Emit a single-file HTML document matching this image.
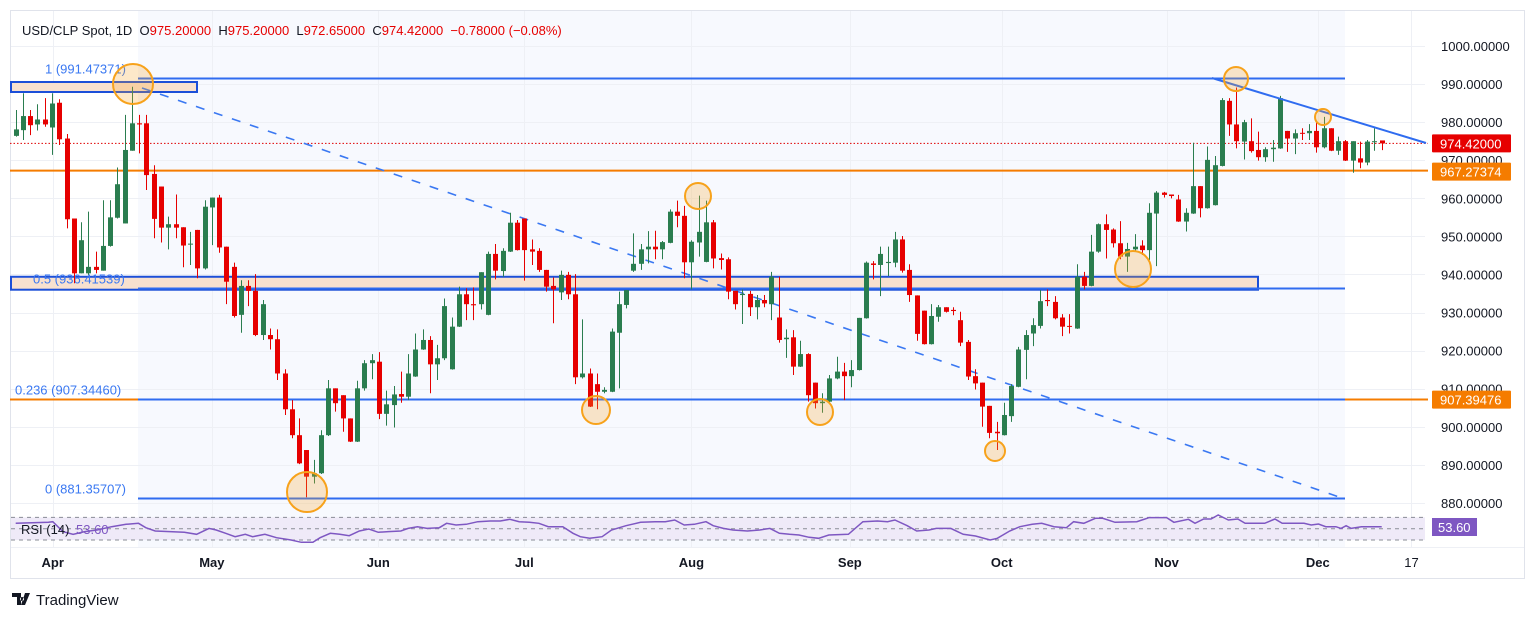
<!DOCTYPE html>
<html><head><meta charset="utf-8"><style>
html,body{margin:0;padding:0;background:#fff;}
svg{display:block;font-family:"Liberation Sans",sans-serif;}
</style></head><body>
<svg id="c" width="1536" height="619" viewBox="0 0 1536 619"></svg>
<script>
const openP=[976.4,977.9,981.6,979.4,980.7,978.6,985.1,975.7,954.7,940.3,940.3,942.0,941.0,947.5,954.9,953.4,972.5,979.7,979.7,966.4,963.1,952.3,953.2,952.4,947.9,951.7,941.6,957.6,960.2,947.3,942.0,929.4,937.0,935.7,924.1,924.1,923.0,914.0,904.6,897.8,893.9,886.9,887.8,897.8,910.1,908.3,902.2,896.1,910.1,916.7,917.1,903.4,905.7,908.6,907.9,913.2,920.3,922.8,916.4,918.0,915.1,926.3,934.8,932.2,932.2,929.4,945.4,940.9,946.0,953.6,954.7,946.6,946.2,941.2,937.0,935.3,939.9,934.8,913.0,914.0,911.2,909.2,909.2,924.7,932.0,941.0,942.8,946.6,947.3,946.6,948.3,956.5,955.4,943.2,948.4,943.3,953.7,944.3,944.0,935.7,934.6,934.9,931.4,933.3,932.2,928.7,923.0,923.5,915.8,919.1,911.6,906.2,906.6,912.7,914.5,913.3,914.9,928.5,942.9,942.5,943.0,943.1,949.2,941.2,934.5,930.5,921.7,928.9,931.4,930.7,928.0,922.3,913.3,911.6,905.5,898.7,897.8,902.8,910.5,920.2,924.5,926.5,933.3,932.8,928.7,926.5,925.8,939.4,937.0,946.0,953.2,951.8,948.2,944.7,946.6,947.6,946.4,956.0,961.5,961.0,959.7,953.9,956.0,963.2,957.4,958.2,968.5,985.6,979.4,974.9,975.0,972.7,970.8,972.9,973.1,977.7,975.7,977.2,977.1,977.7,973.4,978.4,972.5,975.0,969.9,970.5,969.4,974.9,975.2];
const highP=[983.2,987.6,983.2,984.7,986.3,987.6,986.0,976.9,954.7,953.7,956.5,946.0,959.5,959.5,968.1,981.9,989.3,981.9,981.9,968.7,963.1,955.2,961.0,952.4,951.2,951.7,959.5,960.2,960.9,947.3,943.1,938.5,938.5,940.1,933.3,925.8,925.6,915.1,907.0,902.2,893.9,891.3,899.1,912.3,910.1,908.3,902.2,912.1,917.5,919.1,919.6,909.5,910.7,914.5,919.1,924.5,925.6,923.8,921.5,933.7,928.7,936.8,936.4,936.6,940.6,946.0,948.0,946.9,956.2,954.3,954.7,949.2,946.9,941.2,939.2,941.0,940.7,940.1,928.2,915.3,914.0,910.4,925.8,935.5,935.9,950.8,948.0,951.4,951.5,948.8,957.1,959.4,958.0,949.0,960.7,959.4,954.3,945.5,944.5,935.7,936.1,935.7,934.6,934.6,940.7,939.4,925.6,925.4,922.6,919.3,911.6,908.8,913.6,918.4,916.8,917.5,928.6,943.4,943.5,947.3,947.3,951.2,950.1,942.7,934.5,930.5,932.2,932.0,931.4,931.4,930.2,922.8,915.1,911.6,905.5,901.3,906.3,911.2,921.0,925.4,928.5,935.9,936.1,934.3,929.6,929.6,942.7,940.7,950.4,953.4,955.8,952.1,954.0,948.3,950.6,949.0,958.7,961.9,961.7,961.0,960.9,957.4,974.6,963.2,973.6,971.1,986.3,986.3,989.1,980.6,981.0,977.5,973.4,975.3,986.9,977.7,978.1,978.4,979.5,980.1,981.4,978.4,976.2,975.3,975.0,974.9,975.3,978.4,975.2];
const lowP=[976.2,975.3,976.6,977.8,978.8,971.4,974.0,952.1,937.7,940.3,939.9,940.3,941.0,947.3,954.7,953.4,972.5,971.8,962.2,949.5,948.4,946.6,949.5,941.9,942.5,939.0,941.3,947.7,945.7,932.2,928.7,924.7,931.7,923.8,922.8,920.3,912.3,903.1,897.0,890.2,881.5,885.1,887.6,897.6,904.0,898.7,896.0,896.0,909.5,912.5,902.0,900.3,899.8,906.3,907.0,913.1,920.2,908.8,912.3,917.5,915.0,926.2,928.0,928.0,930.8,929.3,938.7,939.4,945.9,946.3,938.4,942.5,940.7,935.5,927.2,933.3,933.5,911.2,912.7,905.2,904.6,908.8,909.1,910.1,931.1,940.7,941.2,942.9,944.0,944.0,948.2,952.4,939.0,936.1,944.7,943.2,941.6,941.3,933.5,930.8,927.0,929.1,928.2,931.4,928.0,922.1,918.1,913.6,915.7,906.6,904.8,903.7,906.5,912.5,907.0,910.4,914.8,928.4,938.7,934.3,939.6,941.9,940.5,932.8,922.6,921.6,921.6,927.6,930.0,929.3,921.2,912.3,909.8,900.0,897.0,893.9,897.7,901.3,910.4,912.5,921.2,925.8,931.7,928.2,923.8,924.5,925.7,936.1,936.9,945.7,944.2,947.1,944.0,940.7,946.2,945.1,943.8,942.2,960.2,960.0,953.8,951.3,955.9,955.0,957.3,958.1,968.4,976.4,973.1,970.2,972.0,969.9,969.6,969.6,973.0,972.2,971.6,975.3,975.3,972.0,973.1,972.4,971.4,969.8,966.7,967.9,968.7,972.5,972.65];
const closeP=[978.1,981.6,979.2,980.7,979.4,984.9,975.5,954.5,940.3,949.0,942.0,941.2,947.5,955.0,963.7,972.7,979.7,979.4,966.1,954.6,952.3,953.2,952.3,947.6,948.1,941.6,957.8,960.2,947.1,938.1,929.1,937.0,935.7,924.1,932.2,923.0,914.0,904.6,897.8,890.4,886.9,887.8,897.8,910.1,906.2,902.2,896.1,910.1,916.7,917.5,903.4,905.9,908.5,907.9,914.0,920.3,922.8,916.4,918.0,931.7,926.3,934.8,932.2,931.9,940.6,945.4,941.0,946.2,953.6,946.4,946.4,946.0,941.2,936.8,936.1,939.9,934.8,913.0,914.0,905.3,909.2,909.7,925.0,932.2,935.9,942.8,946.6,947.3,946.6,948.5,956.5,955.4,943.2,948.6,951.2,953.7,944.2,943.8,935.5,932.2,934.9,931.4,933.3,932.4,939.4,922.8,923.4,915.8,919.1,908.3,906.2,906.6,912.7,914.5,913.3,914.9,928.6,943.1,942.5,945.4,943.3,949.2,941.0,934.6,924.4,921.7,929.1,931.4,930.2,930.4,922.1,913.2,911.4,905.3,898.4,898.3,903.1,910.7,920.3,924.1,926.7,933.0,933.0,928.5,926.3,926.3,939.4,937.0,946.0,953.2,951.7,948.2,944.7,946.7,947.3,946.4,956.2,961.5,960.9,960.6,953.9,956.2,963.2,957.4,970.1,968.7,985.8,979.4,975.0,980.0,972.4,970.8,972.9,973.3,986.3,975.7,977.1,977.1,977.7,973.4,978.4,972.5,975.0,969.9,975.0,969.4,974.9,975.0,974.42];
const rsiBar=[0,4.5,5.1,6.5,7.9,9.5,11.2,13.2,15.2,16.9,17.9,19.2,21.2,23.2,24.9,26.6,27.6,28.9,30.2,31.6,32.6,34.3,35.9,37.9,39.3,40.9,41.9,43.3,44.6,45.9,47.3,48.6,49.9,51.3,53,54,55.3,56.6,58.3,59.3,60.6,62,63.6,65.3,66.7,68,69.3,70.7,72,73.3,75.3,76.7,77.7,79,80.7,82,84,86,88,89.4,90.7,92,93.4,95,96,97.4,98.7,100.7,102.4,103.8,105.1,106.5,107.8,109.2,110.5,111.9,114.6,116.6,118.6,120,121,122.7,124,125.7,126.7,128.7,130.4,132.1,134.1,135.1,136.8,138.2,139.9,141.2,142.9,144.6,145.6,147,148.6,149.6,151.3,154.3,156,158.4,159.4,161.4,162.3,163.5,164.5,165.5,166.9,168.2,169.2,171.9,173.3,174.3,177.3,178.3,179.3,180.3,181.7,182.4,183.1,183.8,185.2,188];
const rsiVal=[59.5,61.2,62.4,44.8,40.1,44.8,47.7,53.6,57.7,59.5,51.8,45.9,44.8,43.6,40.1,50.6,47.7,41.8,35.9,40.1,35.9,40.1,34.2,30.1,26.0,26.0,34.2,41.8,40.1,37.7,45.9,49.5,43.6,44.8,45.9,50.6,53.6,50.6,51.8,59.5,56.5,57.7,62.4,63.6,63.6,66.5,62.4,61.2,59.5,53.6,53.6,41.8,35.9,33.0,35.9,47.7,55.3,61.2,62.4,62.4,65.3,56.5,57.7,62.4,55.3,50.6,47.7,45.9,47.7,50.6,41.8,40.1,38.9,34.8,33.0,38.9,40.1,62.4,63.6,62.4,65.3,55.3,45.9,47.7,50.6,50.6,40.1,37.1,30.1,33.0,45.9,53.6,57.7,59.5,53.6,51.8,62.4,59.5,68.3,68.3,61.2,62.4,69.5,69.5,61.2,66.5,59.5,67.1,67.1,74.2,65.3,67.1,59.5,59.5,67.1,59.5,59.5,56.5,58.3,53.6,53.6,50.6,55.3,50.6,53.6,53.6];
const priceTicks=[1000,990,980,970,960,950,940,930,920,910,900,890,880];
const monthLabels=["Apr","May","Jun","Jul","Aug","Sep","Oct","Nov","Dec","17"];
const monthBar=[5.1,27,49.9,70,93,114.8,135.7,158.4,179.2,192.1];

const NS="http://www.w3.org/2000/svg";
const svg=document.getElementById('c');
const X=i=>15.7+i*7.266;
const Y=p=>46+(1000-p)*3.808;
const RY=v=>528.7-(v-50)*0.567;
function mk(tag,attrs,parent){const e=document.createElementNS(NS,tag);for(const k in attrs)e.setAttribute(k,attrs[k]);(parent||svg).appendChild(e);return e;}
function txt(s,x,y,attrs,parent){const t=mk('text',Object.assign({x:x,y:y},attrs),parent);t.textContent=s;return t;}

// frame
let e=mk('rect',{x:10.5,y:10.5,width:1514,height:568,fill:'#fff',stroke:'#e0e3eb'});


e=mk('rect',{x:138,y:11,width:1207,height:536,fill:'#f7f9fe'});


// grid
const grid=mk('g',{stroke:'#eef0f5','stroke-width':1});


priceTicks.forEach(p=>{mk('line',{x1:11,x2:1425,y1:Math.round(Y(p))+0.5,y2:Math.round(Y(p))+0.5},grid);});
monthBar.forEach(b=>{mk('line',{x1:Math.round(X(b))+0.5,x2:Math.round(X(b))+0.5,y1:11,y2:547},grid);});
mk('line',{x1:11,x2:1524,y1:547.5,y2:547.5},grid);

// price axis labels
const pa=mk('g',{fill:'#131722','font-size':13});


priceTicks.forEach(p=>{const t=txt(p.toFixed(5),1441,Y(p)+5,{},pa);

});

// fib zones
e=mk('rect',{x:11,y:82,width:186,height:10,fill:'#f8e1cf',stroke:'#1c4fd8','stroke-width':2});


e=mk('rect',{x:11,y:Y(939.4),width:1247,height:Y(936.0)-Y(939.4),fill:'#f8e1cf',stroke:'#1c4fd8','stroke-width':2});


const fibs=[[991.47371,'1 (991.47371)',45],[936.41539,'0.5 (936.41539)',33],[907.3446,'0.236 (907.34460)',15],[881.35707,'0 (881.35707)',45]];
fibs.forEach(f=>{const y=Math.round(Y(f[0]))+0.5;
const l=mk('line',{x1:138,x2:1345,y1:y,y2:y,stroke:'#2f6cf0','stroke-width':2});


const t=txt(f[1],f[2],y-5,{fill:'#3a78f2','font-size':13});

});
e=mk('line',{x1:10,x2:138,y1:Math.round(Y(907.3446))+0.5,y2:Math.round(Y(907.3446))+0.5,stroke:'#f57c00','stroke-width':2});


e=mk('line',{x1:1345,x2:1428,y1:Math.round(Y(907.3446))+0.5,y2:Math.round(Y(907.3446))+0.5,stroke:'#f57c00','stroke-width':2});


e=mk('line',{x1:10,x2:1428,y1:Y(967.27374),y2:Y(967.27374),stroke:'#f57c00','stroke-width':2});


e=mk('line',{x1:10,x2:1428,y1:Y(974.42),y2:Y(974.42),stroke:'#e00000','stroke-width':1,'stroke-dasharray':'1.5 2'});


e=mk('line',{x1:142,y1:88,x2:1345,y2:499,stroke:'#3a78f2','stroke-width':1.6,'stroke-dasharray':'9 10'});



// candles
const cg=mk('g',{});


for(let i=0;i<closeP.length;i++){
 const up=closeP[i]>=openP[i];const col=up?'#2a7d4f':'#e60000';
 const x=Math.round(X(i));
 const g=mk('g',{},cg);
 
 
 mk('line',{x1:x+0.5,x2:x+0.5,y1:Y(highP[i]),y2:Y(lowP[i]),stroke:col,'stroke-width':1},g);
 const top=Y(Math.max(openP[i],closeP[i])),bot=Y(Math.min(openP[i],closeP[i]));
 mk('rect',{x:x-2,y:top,width:5,height:Math.max(1,bot-top),fill:col},g);
}
e=mk('line',{x1:1212,y1:78,x2:1426,y2:143,stroke:'#2f6cf0','stroke-width':2});



// circles
const circ=[[133,84,20],[307,492,20],[698,196,13],[596,410,14],[820,412,13],[995,451,10],[1133,269,18],[1236,79,12],[1323,117,8]];
circ.forEach(c=>{const k=mk('circle',{cx:c[0],cy:c[1],r:c[2],fill:'rgba(247,162,40,0.25)',stroke:'#f7a21b','stroke-width':2});

});

// price tags
function tag(label,y,bg,name){const g=mk('g',{});


mk('rect',{x:1432,y:y-9,width:79,height:18,fill:bg,rx:1},g);
txt(label,1440,y+5,{fill:'#fff','font-size':13},g);}
tag('974.42000',Y(974.42),'#e60000','last-price-tag');
tag('967.27374',Y(967.27374)+1,'#f57c00','level-967-tag');
tag('907.39476',Y(907.39476)+1,'#f57c00','level-907-tag');

// RSI pane
e=mk('rect',{x:11,y:RY(70),width:1414,height:RY(30)-RY(70),fill:'#efeaf8'});


[70,50,30].forEach(v=>{const l=mk('line',{x1:11,x2:1425,y1:RY(v),y2:RY(v),stroke:'#8a8d96','stroke-width':1,'stroke-dasharray':'4 4'});

});
let d='';rsiBar.forEach((b,i)=>{d+=(i?'L':'M')+X(b).toFixed(1)+' '+RY(rsiVal[i]).toFixed(1);});
e=mk('path',{d:d,fill:'none',stroke:'#7e57c2','stroke-width':1.5});


e=txt('RSI (14)',21,534,{fill:'#131722','font-size':13});


e=txt('53.60',76,534,{fill:'#7e57c2','font-size':13});


const rt=mk('g',{});


mk('rect',{x:1432,y:518,width:45,height:18,fill:'#7e57c2'},rt);
txt('53.60',1438,532,{fill:'#fff','font-size':13},rt);

// time axis
monthLabels.forEach((m,i)=>{const t=txt(m,X(monthBar[i]),567,{fill:'#131722','font-size':13,'text-anchor':'middle','font-weight':m==='17'?'normal':'bold'});

});

// header
const hd=mk('text',{x:22,y:35,'font-size':13,fill:'#131722'});


hd.innerHTML='USD/CLP Spot, 1D  O<tspan fill="#e60000">975.20000</tspan>  H<tspan fill="#e60000">975.20000</tspan>  L<tspan fill="#e60000">972.65000</tspan>  C<tspan fill="#e60000">974.42000</tspan>  <tspan fill="#e60000">−0.78000 (−0.08%)</tspan>';
hd.setAttribute('xml:space','preserve');
hd.style.whiteSpace='pre';

// logo
const lg=mk('g',{});


mk('path',{d:'M12 593h9v12h-4v-8h-5z M22 597a2 2 0 1 0 0.1 0 M25 593h5l-5 12h-4z',fill:'#131722'},lg);
txt('TradingView',36,605,{fill:'#131722','font-size':15},lg);
</script>
</body></html>
